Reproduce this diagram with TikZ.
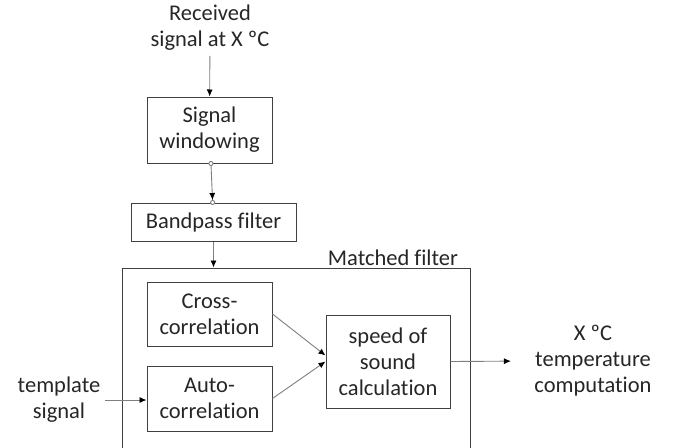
\documentclass[tikz,border=0pt]{standalone}
\usepackage{fontspec}
\setmainfont{Carlito}[Ligatures=NoCommon]
\usetikzlibrary{arrows.meta}
\definecolor{MFBox}{HTML}{404040}
\definecolor{MFLink}{HTML}{7F7F7F}
\definecolor{MFText}{HTML}{262626}

\tikzset{
  plain/.style={text=MFText, align=center, font=\fontsize{22.5}{26}\selectfont},
  blockbox/.style={plain, draw=MFBox, line width=1pt, inner sep=0pt},
  link/.style={draw=MFLink, line width=0.9pt, -{Latex[length=7pt,width=6pt,color=black]}}
}

\begin{document}
\begin{tikzpicture}[x=1pt,y=-1pt]
\clip (0,0) rectangle (674,447);
% outer block, runs past the lower edge
\node[blockbox, minimum width=348, minimum height=202] (matched) at (296,369) {};
\node[plain, anchor=base] (mflabel) at (393,265) {Matched filter};
% input chain
\node[plain, inner sep=5pt] (rx) at (210,28) {Received\\signal at X ºC};
\node[blockbox, minimum width=125, minimum height=66] (win) at (209.5,130) {Signal\\windowing};
\node[blockbox, minimum width=165, minimum height=38] (band) at (213.5,222) {Bandpass filter};
% inside the matched filter
\node[blockbox, minimum width=125, minimum height=64] (cross) at (209.5,314) {Cross-\\correlation};
\node[blockbox, minimum width=125, minimum height=65] (auto) at (209.5,398.5) {Auto-\\correlation};
\node[blockbox, minimum width=124, minimum height=93] (speed) at (388,361.5) {speed of\\sound\\calculation};
% side texts
\node[plain, inner sep=5pt] (tmpl) at (59,400) {template\\signal};
\node[plain] (out) at (593,361) {X ºC\\temperature\\computation};
% connectors
\draw[link] (rx) -- (win);
\draw[link, shorten <=-2.5pt, shorten >=-2.5pt, {Circle[open,length=5pt,fill=white]}-{Latex[length=7pt,width=6pt,color=black] Circle[open,length=5pt,fill=white,color=MFLink]}] (win) -- (band);
\draw[link] (band.south) -- (band.south |- matched.north);
\draw[link] (cross.east) -- ([yshift=6pt]speed.west);
\draw[link] (auto.east) -- (speed.west);
\draw[link] (tmpl.east) -- (tmpl.east -| auto.west);
\draw[link, shorten >=20pt] (speed.east) -- (out.west);
\end{tikzpicture}
\end{document}
